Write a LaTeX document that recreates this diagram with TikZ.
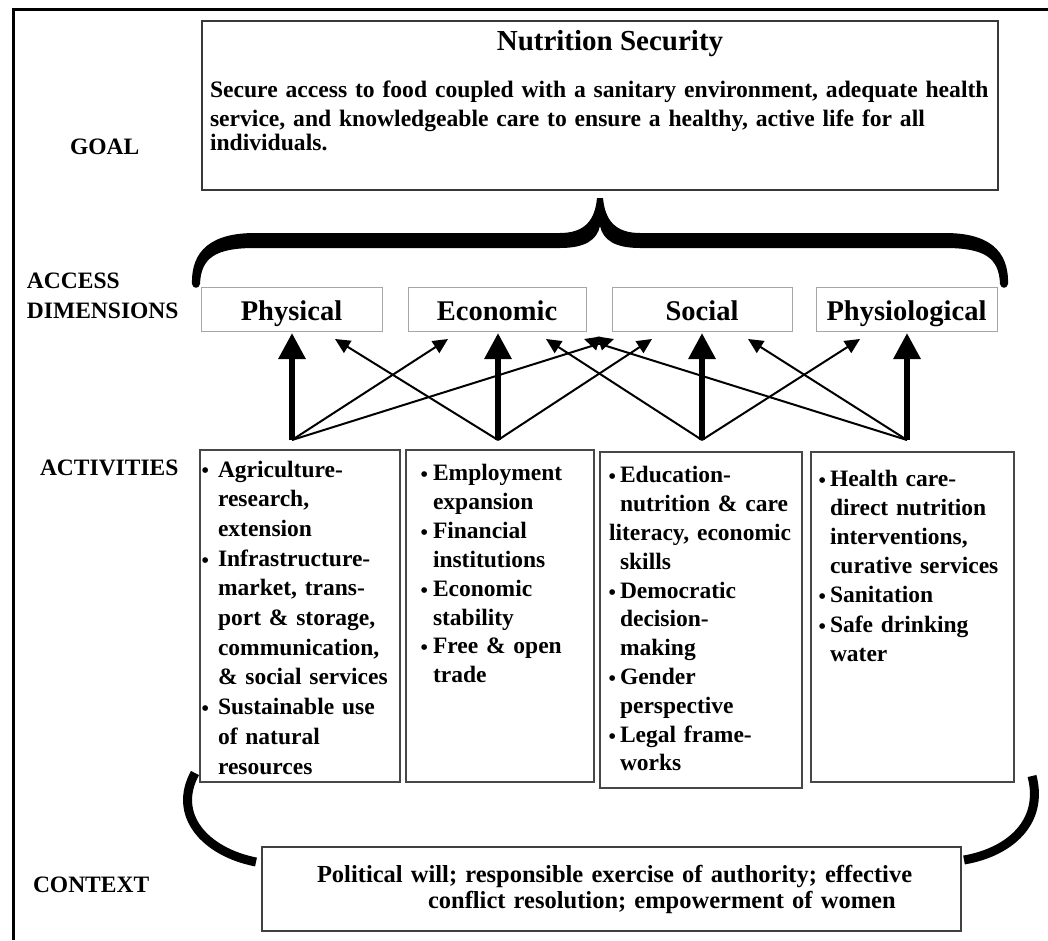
\documentclass[tikz,border=0pt]{standalone}
\usepackage{fontspec}
\setmainfont{Liberation Serif}
\usetikzlibrary{arrows.meta}
% hanging bullet with a given gap to the text
\newcommand\bul[1]{\leavevmode\llap{\raisebox{-1pt}{\fontsize{21}{21}\selectfont\textbullet}\hspace{#1}}}
\begin{document}
\begin{tikzpicture}[x=1pt,y=-1pt,
  every node/.style={inner sep=0pt, outer sep=0pt},
  bigbox/.style={draw=black!78, line width=2pt, anchor=north west},
  dimbox/.style={draw=black!35, line width=1pt, minimum height=44pt,
    text height=22pt, text depth=0pt,
    font=\fontsize{28.5}{30}\selectfont\bfseries},
  actbox/.style={draw=black!72, line width=2.2pt, anchor=north west},
  acttext/.style={anchor=north west, align=left, text width=195pt},
  sidelabel/.style={font=\fontsize{23.5}{30}\selectfont\bfseries},
  mainarrow/.style={line width=6pt, -{Triangle[width=26pt,length=26pt]}},
  crossarrow/.style={line width=2pt, -{Triangle[width=14pt,length=15pt]}}
]
\useasboundingbox[fill=white] (0,0) rectangle (1048,940);

% outer frame (left and top edges)
\draw[line width=3pt] (13,940) -- (13,9) -- (1048,9);

% side labels
\node[sidelabel, anchor=base west] (lgoal) at (70,154) {GOAL};
\node[sidelabel, anchor=north west, align=left, text width=170pt] (laccess) at (27,267) {\strut ACCESS\\DIMENSIONS};
\node[sidelabel, anchor=base west] (lact) at (40,475) {ACTIVITIES};
\node[sidelabel, anchor=base west] (lctx) at (33,892) {CONTEXT};

% goal
\node[bigbox, minimum width=796pt, minimum height=169pt] (goal) at (202,21) {};
\node[anchor=base, font=\fontsize{29}{32}\selectfont\bfseries] (title) at (610,50) {Nutrition Security};
\node[anchor=north west, align=left, text width=792pt, font=\fontsize{23.6}{29.5}\selectfont\bfseries] (goaltext) at (210,76.35)
  {\strut Secure access to food coupled with a sanitary environment, adequate health\\
   service, and knowledgeable care to ensure a healthy, active life for all\\[-6pt]
   individuals.};

% brace joining the access dimensions to the goal
\fill (192,284)
 .. controls (191,250) and (212,233) .. (255,233)
 -- (560,233)
 .. controls (585,233) and (595,220) .. (597,198)
 -- (603,198)
 .. controls (605,220) and (615,233) .. (640,233)
 -- (945,233)
 .. controls (988,233) and (1009,250) .. (1008,284)
 .. controls (1007,289) and (1001,289) .. (1000,284)
 .. controls (999,258) and (985,248) .. (945,248)
 -- (640,248)
 .. controls (615,248) and (603,240) .. (600,226)
 .. controls (597,240) and (585,248) .. (560,248)
 -- (255,248)
 .. controls (215,248) and (201,258) .. (200,284)
 .. controls (199,289) and (193,289) .. (192,284)
 -- cycle;

% access dimensions
\node[dimbox, minimum width=181pt] (phys)   at (291.5,309) {Physical};
\node[dimbox, minimum width=178pt] (econ)   at (497,309)   {Economic\hspace{14pt}};
\node[dimbox, minimum width=180pt] (soc)    at (702,309)   {Social};
\node[dimbox, minimum width=181pt] (physio) at (906.5,309) {Physiological};

% activity boxes
\node[actbox, minimum width=200pt, minimum height=332pt] (act1) at (200,450) {};
\node[actbox, minimum width=188pt, minimum height=332pt] (act2) at (406,450) {};
\node[actbox, minimum width=202pt, minimum height=336pt] (act3) at (600,452) {};
\node[actbox, minimum width=203pt, minimum height=330pt] (act4) at (811,452) {};

\node[acttext, font=\fontsize{23.5}{29.7}\selectfont\bfseries] (act1text) at (218,456.2)
  {\bul{9pt}\strut Agriculture-\\
   research,\\
   extension\\
   \bul{9pt}Infrastructure-\\
   market, trans-\\
   port \& storage,\\
   communication,\\
   \& social services\\
   \bul{9pt}Sustainable use\\
   of natural\\
   resources};
\node[acttext, font=\fontsize{23.5}{28.9}\selectfont\bfseries] (act2text) at (433,460.3)
  {\bul{5pt}\strut Employment\\
   expansion\\
   \bul{5pt}Financial\\
   institutions\\
   \bul{5pt}Economic\\
   stability\\
   \bul{5pt}Free \& open\\
   trade};
\node[acttext, font=\fontsize{23.5}{28.8}\selectfont\bfseries] (act3text) at (620,462.8)
  {\bul{4pt}\strut Education-\\
   nutrition \& care\\
   \hspace*{-11pt}literacy, economic\\
   skills\\
   \bul{4pt}Democratic\\
   decision-\\
   making\\
   \bul{4pt}Gender\\
   perspective\\
   \bul{4pt}Legal frame-\\
   works};
\node[acttext, font=\fontsize{23.5}{29.2}\selectfont\bfseries] (act4text) at (830,465.6)
  {\bul{4pt}\strut Health care-\\
   direct nutrition\\
   interventions,\\
   curative services\\
   \bul{4pt}Sanitation\\
   \bul{4pt}Safe drinking\\
   water};

% arrow origins above the activity boxes
\coordinate (s1) at (292,440);
\coordinate (s2) at (498,440);
\coordinate (s3) at (702,440);
\coordinate (s4) at (907,440);
% cross-link arrow tips under the access boxes
\coordinate (t12) at (448,339);
\coordinate (t13) at (614,339);
\coordinate (t21) at (335,339);
\coordinate (t23) at (652,339);
\coordinate (t32) at (546,339);
\coordinate (t34) at (860,339);
\coordinate (t42) at (584,339);
\coordinate (t43) at (748,339);

\draw[mainarrow, shorten >=2pt] (s1) -- (s1 |- phys.south);
\draw[mainarrow, shorten >=2pt] (s2) -- (s2 |- econ.south);
\draw[mainarrow, shorten >=2pt] (s3) -- (s3 |- soc.south);
\draw[mainarrow, shorten >=2pt] (s4) -- (s4 |- physio.south);

\draw[crossarrow] (s1) -- (t12);
\draw[crossarrow] (s1) -- (t13);
\draw[crossarrow] (s2) -- (t21);
\draw[crossarrow] (s2) -- (t23);
\draw[crossarrow] (s3) -- (t32);
\draw[crossarrow] (s3) -- (t34);
\draw[crossarrow] (s4) -- (t42);
\draw[crossarrow] (s4) -- (t43);

% context
\node[bigbox, draw=black!75, line width=1.8pt, minimum width=699pt, minimum height=84pt] (ctx) at (262,847) {};
\node[anchor=north west, align=left, text width=620pt, font=\fontsize{24.5}{26}\selectfont\bfseries] (ctxtext) at (317,863.8)
  {\strut Political will; responsible exercise of authority; effective\\
   \hspace*{111pt}conflict resolution; empowerment of women};

% arcs linking the activities to the context
\draw[line width=9pt] (195,773) .. controls (172,815) and (205,852) .. (256,862);
\draw[line width=9pt] (1032,776) .. controls (1044,822) and (1010,852) .. (964,860);
\end{tikzpicture}
\end{document}
